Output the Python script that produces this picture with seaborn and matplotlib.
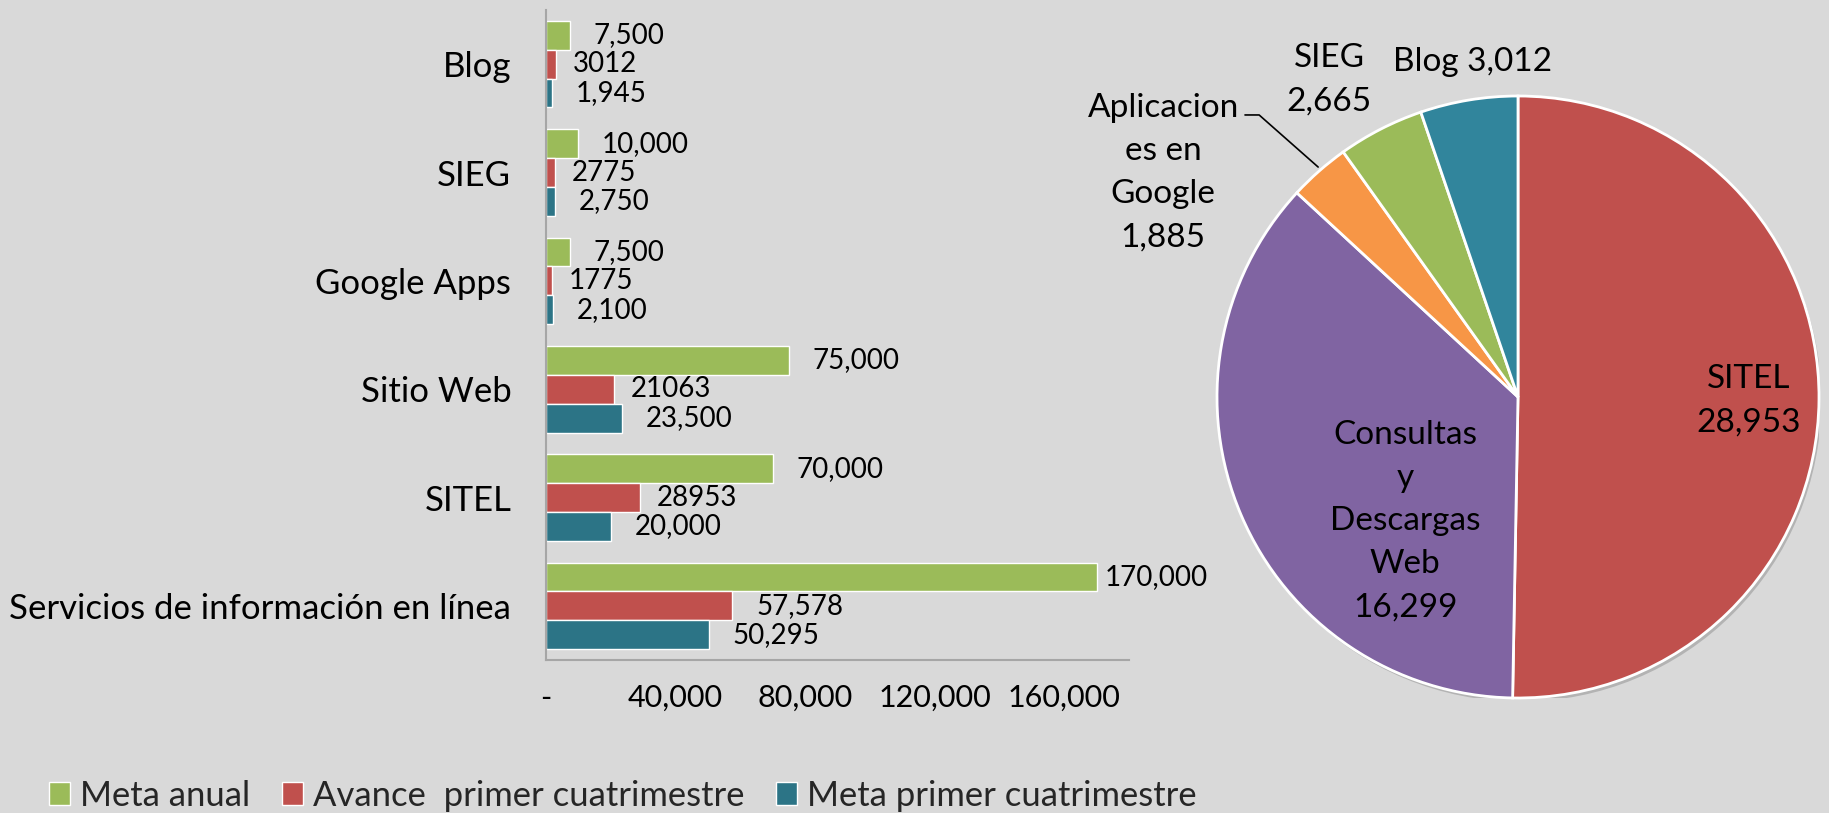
import pandas as pd
import matplotlib.pyplot as plt
import seaborn as sns
from matplotlib.patches import Circle

# Datos de las barras
categorias = ["Blog", "SIEG", "Google Apps", "Sitio Web", "SITEL",
              "Servicios de información en línea"]
series = ["Meta anual", "Avance  primer cuatrimestre", "Meta primer cuatrimestre"]
meta_anual = [7500, 10000, 7500, 75000, 70000, 170000]
avance = [3012, 2775, 1775, 21063, 28953, 57578]
meta_cuatri = [1945, 2750, 2100, 23500, 20000, 50295]
etiquetas = [
    ["7,500", "10,000", "7,500", "75,000", "70,000", "170,000"],
    ["3012", "2775", "1775", "21063", "28953", "57,578"],
    ["1,945", "2,750", "2,100", "23,500", "20,000", "50,295"],
]
x_ticks = [0, 40000, 80000, 120000, 160000]
x_ticklabels = ["-", "40,000", "80,000", "120,000", "160,000"]

# Datos del pastel (el sector morado se dibuja como en la imagen)
pie_nombres = ["SITEL", "Consultas y Descargas Web", "Aplicaciones en Google", "SIEG", "Blog"]
pie_valores = [28953, 21063, 1885, 2665, 3012]
pie_textos = ["SITEL\n28,953", "Consultas\ny\nDescargas\nWeb\n16,299",
              "Aplicacion\nes en\nGoogle\n1,885", "SIEG\n2,665", "Blog 3,012"]

bar_colors = ["#9BBB59", "#C0504D", "#2C7486"]
pie_colors = ["#C0504D", "#8064A2", "#F79646", "#9BBB59", "#31859C"]
fondo = "#D9D9D9"

df = pd.DataFrame({
    "categoria": categorias * 3,
    "serie": [s for s in series for _ in categorias],
    "valor": meta_anual + avance + meta_cuatri,
})

sns.set_theme(style="white")
plt.rcParams["font.family"] = ["Lato", "DejaVu Sans"]

W, H = 1829, 813
fig = plt.figure(figsize=(W / 100, H / 100), dpi=100, facecolor=fondo)

# --- Barras ---
ax = fig.add_axes([546 / W, 1 - 660 / H, (1129 - 546) / W, 650 / H])
ax.set_facecolor(fondo)
sns.barplot(data=df, y="categoria", x="valor", hue="serie", order=categorias,
            hue_order=series, palette=bar_colors, orient="h", width=0.8,
            saturation=1, ax=ax, legend=True)
ax.set_xlim(0, 180000)
ax.set_xticks(x_ticks)
ax.set_xticklabels(x_ticklabels)
ax.set_xlabel("")
ax.set_ylabel("")
ax.tick_params(axis="y", length=0, pad=25, labelsize=25, colors="black")
ax.tick_params(axis="x", length=0, pad=17, labelsize=22, colors="black")
for s in ["top", "right"]:
    ax.spines[s].set_visible(False)
for s in ["left", "bottom"]:
    ax.spines[s].set_color("#A6A6A6")
    ax.spines[s].set_linewidth(1.5)

xmax = ax.get_xlim()[1]
for cont, labs in zip(ax.containers, etiquetas):
    for bar, lab in zip(cont, labs):
        v = bar.get_width()
        pad = 17 if "," in lab else 12
        if v > 0.9 * xmax:
            pad = 6
        ax.annotate(lab, (v, bar.get_y() + bar.get_height() / 2),
                    xytext=(pad, 0), textcoords="offset points",
                    ha="left", va="center", fontsize=20, color="black",
                    annotation_clip=False)

handles, labels = ax.get_legend_handles_labels()
ax.get_legend().remove()
fig.legend(handles, labels, loc="center left", bbox_to_anchor=(49 / W, 1 - 796 / H),
           ncol=3, frameon=False, fontsize=24.9, handlelength=0.61, handleheight=0.64,
           handletextpad=0.3, columnspacing=0.9, borderpad=0, borderaxespad=0)

# --- Pastel ---
cx, cy, r = 1518, 397, 301
ax2 = fig.add_axes([(cx - r) / W, (H - cy - r) / H, 2 * r / W, 2 * r / H])
ax2.add_patch(Circle((0.008, -0.012), 1.0, color="#9a9a9a", alpha=0.6,
                     linewidth=0, zorder=0))
ax2.pie(pie_valores, colors=pie_colors, startangle=90, counterclock=False,
        wedgeprops=dict(edgecolor="white", linewidth=2))
ax2.set_xlim(-1, 1)
ax2.set_ylim(-1, 1)
ax2.set_aspect("equal")
ax2.axis("off")

pos_textos = [(0.767, -0.012), (-0.375, -0.412), (-1.179, 0.746),
              (-0.628, 1.055), (-0.150, 1.113)]
for txt, (tx, ty) in zip(pie_textos, pos_textos):
    ax2.text(tx, ty, txt, ha="center", va="center", fontsize=24,
             linespacing=1.55, color="black", clip_on=False)

# linea guia de Aplicaciones en Google
ax2.plot([-0.907, -0.860, -0.664], [0.937, 0.937, 0.764], color="black",
         linewidth=1.2, clip_on=False)

plt.savefig("out.png", dpi=100, facecolor=fondo)
